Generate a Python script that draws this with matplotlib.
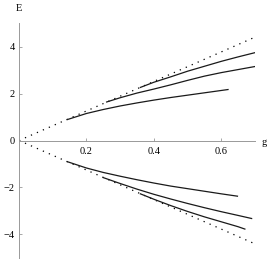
import matplotlib.pyplot as plt
import numpy as np

plt.rcParams['font.family'] = ['Liberation Serif', 'DejaVu Serif']

# upper branches
g_a = [0.143, 0.2, 0.25, 0.3, 0.35, 0.4, 0.45, 0.5, 0.55, 0.6, 0.62]
e_a = [0.89, 1.15, 1.32, 1.47, 1.6, 1.72, 1.83, 1.93, 2.03, 2.13, 2.17]
g_b = [0.26, 0.3, 0.35, 0.4, 0.45, 0.5, 0.55, 0.6, 0.65, 0.7]
e_b = [1.64, 1.82, 2.02, 2.19, 2.37, 2.56, 2.74, 2.89, 3.02, 3.15]
g_c = [0.36, 0.4, 0.45, 0.5, 0.55, 0.6, 0.65, 0.7]
e_c = [2.26, 2.48, 2.71, 2.95, 3.16, 3.37, 3.56, 3.74]

# lower branches
g_a2 = [0.143, 0.2, 0.25, 0.3, 0.35, 0.4, 0.45, 0.5, 0.55, 0.6, 0.648]
e_a2 = [-0.90, -1.17, -1.36, -1.52, -1.67, -1.81, -1.94, -2.05, -2.16, -2.27, -2.37]
g_b2 = [0.25, 0.3, 0.35, 0.4, 0.45, 0.5, 0.55, 0.6, 0.65, 0.69]
e_b2 = [-1.58, -1.83, -2.07, -2.29, -2.49, -2.68, -2.86, -3.03, -3.19, -3.32]
g_c2 = [0.36, 0.4, 0.45, 0.5, 0.55, 0.6, 0.65, 0.67]
e_c2 = [-2.27, -2.50, -2.77, -3.02, -3.25, -3.46, -3.67, -3.77]

# asymptotes E = +-2*pi*g
g_lim = [0.0, 0.7]
e_up = [0.0, 4.40]
e_dn = [0.0, -4.40]

xticks = [0.2, 0.4, 0.6]
yticks = [-4, -2, 0, 2, 4]

fig = plt.figure(figsize=(2.70, 2.59), dpi=100)
ax = fig.add_axes([0.0704, 0.004, 0.874, 0.907])

ax.plot(g_lim, e_up, color='black', lw=0.9, linestyle=(0, (1, 4.2)))
ax.plot(g_lim, e_dn, color='black', lw=0.9, linestyle=(0, (1, 4.2)))
for gg, ee in [(g_a, e_a), (g_b, e_b), (g_c, e_c), (g_a2, e_a2), (g_b2, e_b2), (g_c2, e_c2)]:
    ax.plot(gg, ee, color='#1a1a1a', lw=0.9)

ax.set_xlim(0, 0.7)
ax.set_ylim(-5, 5)
ax.spines['left'].set_position('zero')
ax.spines['bottom'].set_position('zero')
ax.spines['top'].set_visible(False)
ax.spines['right'].set_visible(False)
for s in ['left', 'bottom']:
    ax.spines[s].set_color('#999999')
    ax.spines[s].set_linewidth(0.7)

ax.set_xticks(xticks)
ax.set_xticklabels(['0.2', '0.4', '0.6'])
ax.set_yticks(yticks)
ax.set_yticklabels(['\u22124', '\u22122', '0', '2', '4'])
ax.tick_params(direction='in', length=2.5, width=0.6, color='#999999',
               labelsize=7.5, pad=3)
ax.tick_params(axis='x', pad=5)

ax.text(0, 5.6, 'E', ha='center', va='center', fontsize=7.5, clip_on=False)
ax.text(0.727, -0.08, 'g', ha='center', va='center', fontsize=7.5, clip_on=False)

fig.savefig('out.png', dpi=100)
